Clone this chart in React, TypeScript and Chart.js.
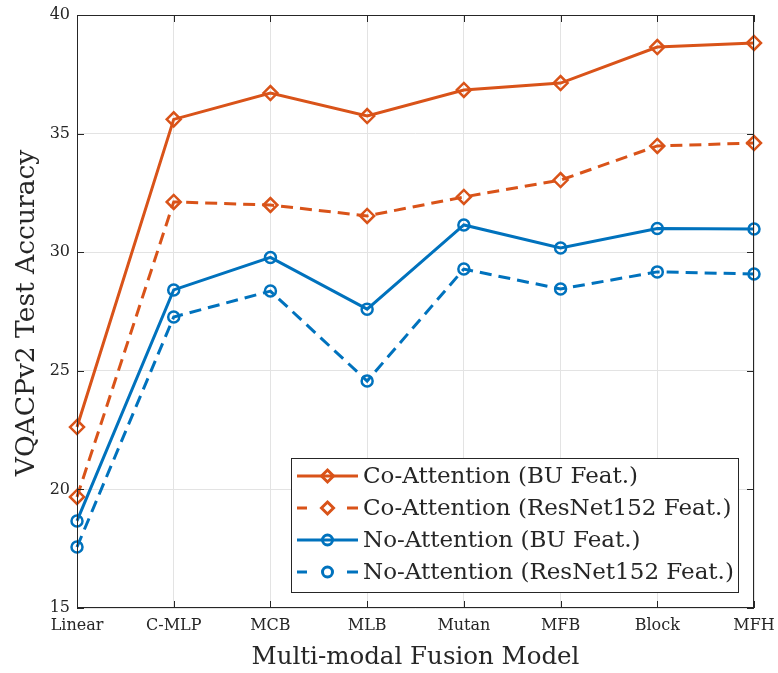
import { useEffect, useRef } from 'react';
import { Chart, registerables } from 'chart.js';

Chart.register(...registerables);

// Fusion models on the x axis
const models = ['Linear', 'C-MLP', 'MCB', 'MLB', 'Mutan', 'MFB', 'Block', 'MFH'];

// Test accuracy per fusion model
const coAttBU = [22.63, 35.6, 36.71, 35.74, 36.84, 37.13, 38.65, 38.82];
const coAttResNet = [19.68, 32.12, 31.99, 31.53, 32.33, 33.04, 34.48, 34.6];
const noAttBU = [18.67, 28.41, 29.78, 27.6, 31.15, 30.18, 31.0, 30.98];
const noAttResNet = [17.57, 27.27, 28.36, 24.57, 29.29, 28.45, 29.17, 29.08];

const seriesLabels = [
  'Co-Attention (BU Feat.)',
  'Co-Attention (ResNet152 Feat.)',
  'No-Attention (BU Feat.)',
  'No-Attention (ResNet152 Feat.)',
];

const yMin = 15;
const yMax = 40;
const yStep = 5;

const xTitle = 'Multi-modal Fusion Model';
const yTitle = 'VQACPv2 Test Accuracy';

const ORANGE = '#D95319';
const BLUE = '#0072BD';
const AXIS = '#262626';
const GRID = '#e3e3e3';
const FONT = '"DejaVu Serif", "Liberation Serif", serif';
const DASH = [12, 7];

// Box, inward ticks, axis titles and the legend box
const decorations = {
  id: 'decorations',
  afterDraw(chart: any) {
    const { ctx, chartArea: a, scales } = chart;
    const xs = scales.x;
    const ys = scales.y;
    ctx.save();
    // frame
    ctx.strokeStyle = AXIS;
    ctx.lineWidth = 1;
    ctx.strokeRect(a.left + 0.5, a.top + 0.5, a.right - a.left - 1, a.bottom - a.top - 1);
    // inward tick marks
    const tl = 7;
    ctx.beginPath();
    xs.ticks.forEach((_: any, i: number) => {
      const x = Math.round(xs.getPixelForTick(i)) + 0.5;
      ctx.moveTo(x, a.bottom);
      ctx.lineTo(x, a.bottom - tl);
      ctx.moveTo(x, a.top);
      ctx.lineTo(x, a.top + tl);
    });
    ys.ticks.forEach((_: any, i: number) => {
      const y = Math.round(ys.getPixelForTick(i)) + 0.5;
      ctx.moveTo(a.left, y);
      ctx.lineTo(a.left + tl, y);
      ctx.moveTo(a.right, y);
      ctx.lineTo(a.right - tl, y);
    });
    ctx.stroke();

    // axis titles
    ctx.fillStyle = AXIS;
    ctx.textAlign = 'center';
    ctx.textBaseline = 'middle';
    ctx.font = `24.5px ${FONT}`;
    ctx.fillText(xTitle, (a.left + a.right) / 2, 658);
    ctx.save();
    ctx.font = `26.5px ${FONT}`;
    ctx.translate(27, 313);
    ctx.rotate(-Math.PI / 2);
    ctx.fillText(yTitle, 0, 0);
    ctx.restore();

    // legend
    const bx = 291, by = 458, bw = 447, bh = 134;
    ctx.fillStyle = '#ffffff';
    ctx.fillRect(bx, by, bw, bh);
    ctx.strokeStyle = AXIS;
    ctx.lineWidth = 1;
    ctx.strokeRect(bx + 0.5, by + 0.5, bw, bh);
    chart.data.datasets.forEach((ds: any, i: number) => {
      const y = 476 + i * 32;
      const x0 = 297, x1 = 358, xm = (x0 + x1) / 2;
      ctx.strokeStyle = ds.borderColor;
      ctx.lineWidth = ds.borderWidth;
      ctx.beginPath();
      if (ds.borderDash && ds.borderDash.length) {
        ctx.moveTo(x0, y); ctx.lineTo(x0 + 10, y);
        ctx.moveTo(x1 - 11, y); ctx.lineTo(x1, y);
      } else {
        ctx.moveTo(x0, y); ctx.lineTo(x1, y);
      }
      ctx.stroke();
      ctx.lineWidth = 3;
      ctx.beginPath();
      const r = ds.pointStyle === 'rectRot' ? 6 : 5;
      if (ds.pointStyle === 'rectRot') {
        ctx.moveTo(xm, y - r); ctx.lineTo(xm + r, y); ctx.lineTo(xm, y + r); ctx.lineTo(xm - r, y);
        ctx.closePath();
      } else {
        ctx.arc(xm, y, r, 0, Math.PI * 2);
      }
      ctx.stroke();
      ctx.fillStyle = AXIS;
      ctx.font = `23px ${FONT}`;
      ctx.textAlign = 'left';
      ctx.textBaseline = 'middle';
      ctx.fillText(ds.label, 363, y + 1);
    });
    ctx.restore();
  },
};

function makeDataset(label: string, data: number[], color: string, dashed: boolean, style: string) {
  return {
    label,
    data,
    borderColor: color,
    backgroundColor: 'rgba(0,0,0,0)',
    borderWidth: 3,
    borderDash: dashed ? DASH : [],
    pointStyle: style,
    pointRadius: style === 'rectRot' ? 7 : 5.5,
    pointBorderWidth: 2.5,
    pointBorderColor: color,
    pointBackgroundColor: 'rgba(0,0,0,0)',
    tension: 0,
    fill: false,
  };
}

export default function App() {
  const ref = useRef<HTMLCanvasElement | null>(null);

  useEffect(() => {
    document.body.style.margin = '0';
    const canvas = ref.current;
    if (!canvas) return;
    const chart = new Chart(canvas, {
      type: 'line',
      data: {
        labels: models,
        datasets: [
          makeDataset(seriesLabels[0], coAttBU, ORANGE, false, 'rectRot'),
          makeDataset(seriesLabels[1], coAttResNet, ORANGE, true, 'rectRot'),
          makeDataset(seriesLabels[2], noAttBU, BLUE, false, 'circle'),
          makeDataset(seriesLabels[3], noAttResNet, BLUE, true, 'circle'),
        ] as any,
      },
      options: {
        animation: false,
        responsive: false,
        maintainAspectRatio: false,
        layout: { padding: { top: 15, right: 24, left: 0, bottom: 0 } },
        plugins: {
          legend: { display: false },
          tooltip: { enabled: false },
          title: { display: false },
        },
        scales: {
          x: {
            type: 'category',
            offset: false,
            grid: { color: GRID, lineWidth: 1, tickLength: 0, drawTicks: false },
            border: { display: false },
            ticks: {
              color: AXIS,
              font: { family: FONT, size: 16 },
              padding: 8,
              maxRotation: 0,
              autoSkip: false,
            },
            afterFit: (s: any) => {
              s.height = 65;
              s.paddingLeft = 0;
              s.paddingRight = 0;
            },
          },
          y: {
            type: 'linear',
            min: yMin,
            max: yMax,
            grid: { color: GRID, lineWidth: 1, tickLength: 0, drawTicks: false },
            border: { display: false },
            ticks: {
              stepSize: yStep,
              color: AXIS,
              font: { family: FONT, size: 16 },
              padding: 7,
            },
            afterFit: (s: any) => {
              s.width = 77;
              s.paddingTop = 0;
              s.paddingBottom = 0;
            },
          },
        },
      },
      plugins: [decorations],
    });
    return () => chart.destroy();
  }, []);

  return <canvas ref={ref} width={778} height={673} style={{ display: 'block', width: 778, height: 673 }} />;
}
